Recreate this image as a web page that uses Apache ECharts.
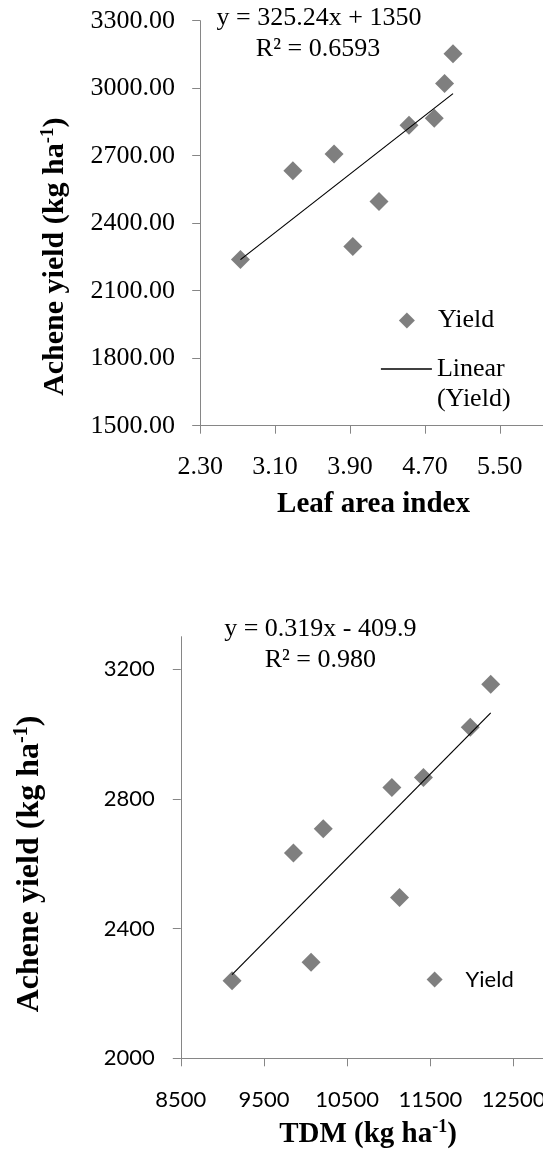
<!DOCTYPE html>
<html><head><meta charset="utf-8">
<script src="https://cdn.jsdelivr.net/npm/echarts@6/dist/echarts.min.js"></script>
<style>html,body{margin:0;padding:0;background:#fff}#c{width:543px;height:1154px}</style>
</head><body><div id="c"></div>
<script>
// ---- data ----
const achYield = [2239, 2633, 2708, 2296, 2496, 2835, 2866, 3021, 3153];
const laiValues = [2.73, 3.29, 3.73, 3.93, 4.21, 4.53, 4.80, 4.91, 5.00];
const tdmValues = [9116, 9854, 10212, 10066, 11129, 11037, 11416, 11979, 12225];
const laiTrendX = [2.73, 5.00];
const laiTrendY = [2238, 2976];
const tdmTrendX = [9116, 12225];
const tdmTrendY = [2258, 3065];
const laiTicks = [2.3, 3.1, 3.9, 4.7, 5.5, 6.3];
const laiLabels = [2.3, 3.1, 3.9, 4.7, 5.5];
const yieldTicks1 = [1500, 1800, 2100, 2400, 2700, 3000, 3300];
const tdmTicks = [8500, 9500, 10500, 11500, 12500, 13500];
const yieldTicks2 = [2000, 2400, 2800, 3200];
const eq1 = ['y = 325.24x + 1350', 'R² = 0.6593'];
const eq2 = ['y = 0.319x - 409.9', 'R² = 0.980'];

const SERIF = "'Liberation Serif', 'Times New Roman', serif";
const SANS = "Lato, 'Noto Sans', sans-serif";
const AX = '#868686';
const MK = '#5f5f5f';

const zip = (a, b) => a.map((v, i) => [v, b[i]]);

function axisCommon(labelFont, fontSize, margin, ticks, labels, fmt) {
  return {
    type: 'value',
    axisLine: { show: true, onZero: false, lineStyle: { color: AX, width: 1 } },
    axisTick: { show: true, length: 8, inside: false, lineStyle: { color: AX }, customValues: ticks },
    axisLabel: { customValues: labels, formatter: fmt, fontFamily: labelFont, fontSize: fontSize, color: '#000', margin: margin, hideOverlap: false },
    splitLine: { show: false }
  };
}

const chart = echarts.init(document.getElementById('c'), null, { renderer: 'canvas' });

const supRich = (size) => ({
  b: { fontFamily: SERIF, fontWeight: 'bold', fontSize: size, lineHeight: size + 4, fill: '#000', color: '#000' },
  s: { fontFamily: SERIF, fontWeight: 'bold', fontSize: Math.round(size * 0.62), lineHeight: Math.round(size * 0.62), verticalAlign: 'top', fill: '#000', color: '#000' }
});

function txt(x, y, text, font, rot, rich) {
  const style = { text: text, fill: '#000', align: 'center', verticalAlign: 'middle', textAlign: 'center', textVerticalAlign: 'middle' };
  if (font) style.font = font;
  if (rich) style.rich = rich;
  return { type: 'text', x: x, y: y, rotation: rot || 0, style: style, silent: true };
}

const option = {
  animation: false,
  backgroundColor: '#fff',
  grid: [
    { left: 200.2, top: 20.7, width: 374.5, height: 405, containLabel: false, outerBoundsMode: 'none' },
    { left: 180.8, top: 636.7, width: 416, height: 421.6, containLabel: false, outerBoundsMode: 'none' }
  ],
  xAxis: [
    Object.assign(axisCommon(SERIF, 26, 28, laiTicks, laiLabels, v => v.toFixed(2)), { gridIndex: 0, min: 2.3, max: 6.3 }),
    Object.assign(axisCommon(SANS, 22, 31, tdmTicks, tdmTicks, v => String(v)), { gridIndex: 1, min: 8500, max: 13500 })
  ],
  yAxis: [
    Object.assign(axisCommon(SERIF, 26, 25.3, yieldTicks1, yieldTicks1, v => v.toFixed(2)), { gridIndex: 0, min: 1500, max: 3300, interval: 300 }),
    Object.assign(axisCommon(SANS, 22, 26, yieldTicks2, yieldTicks2, v => String(v)), { gridIndex: 1, min: 2000, max: 3300 })
  ],
  legend: [
    { data: [{ name: 'Yield', icon: 'diamond' }], left: 398.9, top: 307.5, padding: 0, itemWidth: 16, itemHeight: 16,
      selectedMode: false,
      textStyle: { fontFamily: SERIF, fontSize: 26, color: '#000', lineHeight: 16, padding: [0, 0, 0, 18] } },
    { data: [{ name: 'Linear (Yield)', icon: 'rect' }], left: 380.9, top: 324, padding: 0, itemWidth: 51, itemHeight: 1.3,
      selectedMode: false, formatter: () => '\u00a0\nLinear\n(Yield)',
      textStyle: { fontFamily: SERIF, fontSize: 26, color: '#000', lineHeight: 30 } },
    { data: [{ name: 'Yield TDM', icon: 'diamond' }], left: 426.6, top: 968.5, padding: 0, itemWidth: 16, itemHeight: 16,
      selectedMode: false, formatter: () => 'Yield',
      textStyle: { fontFamily: SANS, fontSize: 22, color: '#000', lineHeight: 16, padding: [0, 0, 0, 18] } }
  ],
  series: [
    { name: 'Yield', type: 'scatter', xAxisIndex: 0, yAxisIndex: 0, symbol: 'diamond', symbolSize: 19,
      itemStyle: { color: MK }, data: zip(laiValues, achYield), z: 3 },
    { name: 'Linear (Yield)', type: 'line', xAxisIndex: 0, yAxisIndex: 0, symbol: 'none', showSymbol: false,
      lineStyle: { color: '#000', width: 1.2 }, itemStyle: { color: '#000' }, data: zip(laiTrendX, laiTrendY), z: 4 },
    { name: 'Yield TDM', type: 'scatter', xAxisIndex: 1, yAxisIndex: 1, symbol: 'diamond', symbolSize: 19,
      itemStyle: { color: MK }, data: zip(tdmValues, achYield), z: 3 },
    { name: 'Linear TDM', type: 'line', xAxisIndex: 1, yAxisIndex: 1, symbol: 'none', showSymbol: false,
      lineStyle: { color: '#000', width: 1.2 }, itemStyle: { color: '#000' }, data: zip(tdmTrendX, tdmTrendY), z: 4 }
  ],
  graphic: [
    txt(319, 18, eq1[0], '26px ' + SERIF),
    txt(318, 49, eq1[1], '26px ' + SERIF),
    txt(320.3, 629, eq2[0], '26px ' + SERIF),
    txt(320.3, 660, eq2[1], '26px ' + SERIF),
    txt(373.5, 505, '{b|Leaf area index}', null, 0, supRich(29)),
    txt(368, 1135, '{b|TDM (kg ha}{s|-1}{b|)}', null, 0, supRich(29)),
    txt(55.5, 256.7, '{b|Achene yield (kg ha}{s|-1}{b|)}', null, Math.PI / 2, supRich(30)),
    txt(29.5, 864, '{b|Achene yield (kg ha}{s|-1}{b|)}', null, Math.PI / 2, supRich(32))
  ]
};
chart.setOption(option);
</script></body></html>
